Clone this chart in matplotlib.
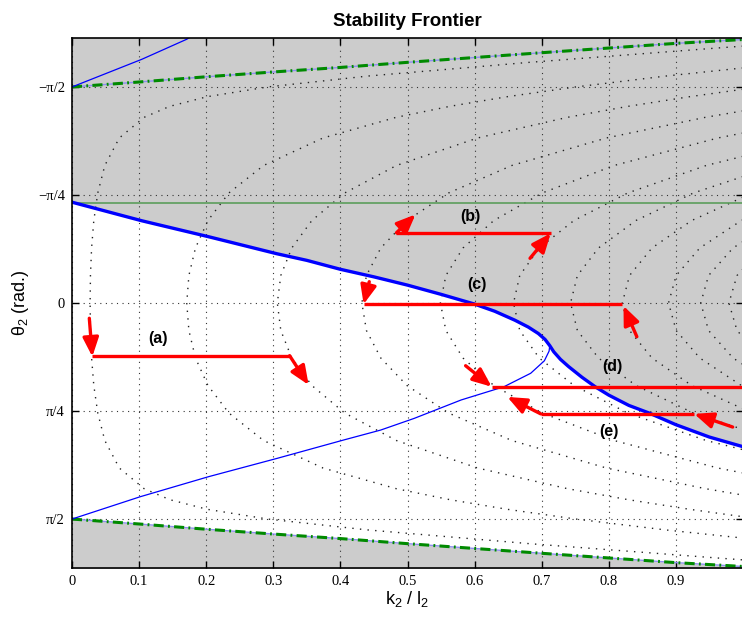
import numpy as np
import matplotlib
matplotlib.use('Agg')
import matplotlib.pyplot as plt

plt.rcParams['font.family'] = ['Liberation Sans', 'DejaVu Sans']
plt.rcParams['mathtext.default'] = 'regular'

# --- ticks ---
x_ticks = [0, 0.1, 0.2, 0.3, 0.4, 0.5, 0.6, 0.7, 0.8, 0.9]
x_tick_labels = ['0', '0.1', '0.2', '0.3', '0.4', '0.5', '0.6', '0.7', '0.8', '0.9']
y_ticks = [-np.pi / 2, -np.pi / 4, 0, np.pi / 4, np.pi / 2]
y_tick_labels = ['\u2212\u03c0/2', '\u2212\u03c0/4', '0', '\u03c0/4', '\u03c0/2']

# --- stability frontier (thick blue), theta vs k2/l2 ---
frontier_x = [0.0, 0.104, 0.2035, 0.3055, 0.35, 0.40, 0.45, 0.50, 0.55, 0.60, 0.63, 0.66,
              0.68, 0.695, 0.705, 0.712, 0.718, 0.728, 0.74, 0.76, 0.78, 0.80, 0.83, 0.86,
              0.90, 0.95, 1.0]
frontier_th = [-0.733, -0.598, -0.482, -0.358, -0.31, -0.245, -0.19, -0.13, -0.063, 0.008,
               0.06, 0.125, 0.175, 0.222, 0.265, 0.31, 0.355, 0.41, 0.462, 0.54, 0.61, 0.67,
               0.745, 0.80, 0.885, 0.975, 1.045]

# --- thin blue branches ---
thin_low_x = [0.0, 0.1015, 0.2035, 0.3055, 0.405, 0.46, 0.51, 0.58, 0.6437, 0.6836, 0.704,
              0.711, 0.712]
thin_low_th = [1.571, 1.409, 1.263, 1.130, 0.996, 0.924, 0.839, 0.705, 0.609, 0.511, 0.42,
               0.35, 0.31]
thin_top_x = [0.0, 0.104, 0.171, 0.175]
thin_top_th = [-1.571, -1.772, -1.918, -1.93]

# --- green dash-dot boundaries (|theta| vs k2/l2, mirrored) ---
green_x = [0.0, 0.1, 0.2, 0.3, 0.4, 0.5, 0.7, 0.9, 1.0]
green_off = [1.571, 1.607, 1.645, 1.68, 1.713, 1.75, 1.82, 1.888, 1.916]
green_flat = -0.73

# --- dotted level curves: k2/l2 at each |theta| sample (symmetric in theta) ---
level_th = [0, 0.2, 0.4, 0.6, 0.8, 1.0, 1.2, 1.35, 1.43, 1.5, 1.571, 1.65, 1.75, 1.85, 1.95]
level_curves = [
    [0.0270, 0.0275, 0.0292, 0.0325, 0.0384, 0.0489, 0.0705, 0.1074, 0.1456, 0.2013, 0.2916,
     0.4403, 0.6816, 0.9503, 1.226],
    [0.1710, 0.1742, 0.1840, 0.2026, 0.2338, 0.2855, 0.3741, 0.4830, 0.5630, 0.6484, 0.7508,
     0.8845, 1.0792],
    [0.3060, 0.3112, 0.3275, 0.3575, 0.4064, 0.4835, 0.6045, 0.7382, 0.8287, 0.9202, 1.0247],
    [0.4320, 0.4388, 0.4602, 0.4992, 0.5612, 0.6555, 0.7965, 0.9438, 1.0396],
    [0.5490, 0.5572, 0.5827, 0.6287, 0.7008, 0.8079, 0.9626, 1.1186],
    [0.6580, 0.6673, 0.6963, 0.7481, 0.8282, 0.9451, 1.1099],
    [0.7430, 0.7532, 0.7846, 0.8405, 0.9261, 1.0496],
    [0.8201, 0.8309, 0.8643, 0.9236, 1.0138],
    [0.8890, 0.9004, 0.9356, 0.9976, 1.0916],
    [0.9370, 0.9487, 0.9851, 1.0490],
    [0.9790, 0.9911, 1.0284],
]

# --- red paths: horizontal legs (theta, x_start, x_end) and arrows (x0, th0, x1, th1) ---
red_legs = [(0.383, 0.0303, 0.3243), (-0.511, 0.4836, 0.7134), (0.007, 0.4346, 0.8203),
            (0.609, 0.6254, 1.0), (0.806, 0.6985, 0.9273)]
red_arrows = [(0.0258, 0.111, 0.0303, 0.390), (0.3243, 0.383, 0.3527, 0.596),
              (0.4836, -0.511, 0.5119, -0.6436), (0.6826, -0.325, 0.7134, -0.507),
              (0.443, -0.155, 0.4346, 0.009), (0.8418, 0.245, 0.8219, 0.021),
              (0.5866, 0.456, 0.6254, 0.609),
              (0.6985, 0.806, 0.6488, 0.683), (0.9846, 0.902, 0.9273, 0.806)]
path_labels = ['(a)', '(b)', '(c)', '(d)', '(e)']
label_x = [0.128, 0.594, 0.604, 0.805, 0.80]
label_th = [0.255, -0.628, -0.131, 0.463, 0.936]

# --- figure ---
fig = plt.figure(figsize=(7.42, 6.19), dpi=100)
ax = fig.add_axes([72 / 742, 51 / 619, 671 / 742, 530 / 619])
ax.set_xlim(0, 1)
ax.set_ylim(1.927, -1.927)

gray = '#cccccc'
ax.fill_between(frontier_x, -2.1, frontier_th, color=gray, lw=0, zorder=0.5)
ax.fill_between(green_x, green_off, 2.1, color=gray, lw=0, zorder=0.5)

dots = (0, (1, 4.5))
for xs in level_curves:
    n = len(xs)
    th_full = [-t for t in level_th[:n][::-1]] + level_th[1:n]
    x_full = xs[::-1] + xs[1:]
    ax.plot(x_full, th_full, color='#222222', lw=1.0, linestyle=dots, zorder=1.8)

ax.axhline(green_flat, color='#5c9e5c', lw=1.2, zorder=2)
for sgn in (-1, 1):
    th = [sgn * v for v in green_off]
    ax.plot(green_x, th, color='#8f8ff0', lw=1.0, zorder=2)
    ax.plot(green_x, th, color='#008a00', lw=2.2, linestyle=(0, (3.3, 1.4, 0.6, 1.4)),
            zorder=2.1)

ax.plot(thin_low_x, thin_low_th, color='#0000ff', lw=0.9, zorder=2.2)
ax.plot(thin_top_x, thin_top_th, color='#0000ff', lw=0.9, zorder=2.2)
ax.plot(frontier_x, frontier_th, color='#0000ff', lw=2.4, zorder=2.3)

for th, x0, x1 in red_legs:
    ax.plot([x0, x1], [th, th], color='red', lw=2.4, solid_capstyle='butt', zorder=3)
for x0, t0, x1, t1 in red_arrows:
    ax.annotate('', xy=(x1, t1), xytext=(x0, t0),
                arrowprops=dict(arrowstyle='-|>,head_length=0.95,head_width=0.4',
                                color='red', lw=2.4, shrinkA=0, shrinkB=0,
                                mutation_scale=12),
                zorder=3)
for lab, lx, lt in zip(path_labels, label_x, label_th):
    ax.text(lx, lt, lab, ha='center', va='center', fontsize=11.5, fontweight='bold', zorder=4)

ax.set_xticks(x_ticks)
ax.set_xticklabels(x_tick_labels)
ax.set_yticks(y_ticks)
ax.set_yticklabels(y_tick_labels)
for lab in ax.get_xticklabels() + ax.get_yticklabels():
    lab.set_fontfamily(['Liberation Serif', 'DejaVu Serif'])
ax.tick_params(direction='in', top=True, right=True, length=5, width=1,
               labelsize=10.5, pad=5)
ax.grid(True, color='#333333', linestyle=(0, (1, 4)), lw=0.8)
for sp in ax.spines.values():
    sp.set_linewidth(1.2)

ax.set_title('Stability Frontier', fontsize=13.5, fontweight='bold', pad=9)
ax.set_xlabel('k$_2$ / l$_2$', fontsize=13, labelpad=1)
ax.set_ylabel('\u03b8$_2$ (rad.)', fontsize=13, labelpad=5)

fig.savefig('out.png', dpi=100)
